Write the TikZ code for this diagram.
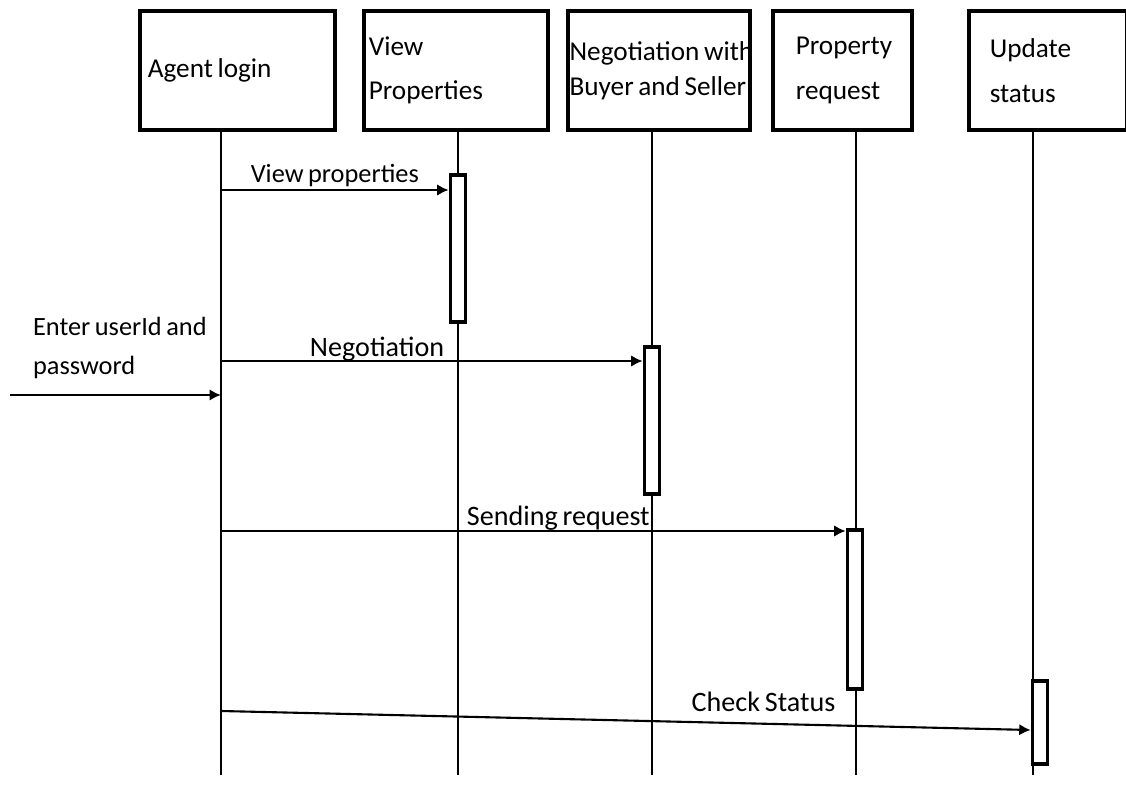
\documentclass[tikz,border=0pt]{standalone}
\usepackage{fontspec}
\setmainfont{Carlito}[WordSpace=0.75]
\usetikzlibrary{arrows.meta, positioning}

\begin{document}
\begin{tikzpicture}[x=0.02cm, y=-0.02cm,
		>={Latex[length=6.5pt, width=6.5pt]},   % Pfeilspitzen
		obj/.style={draw, line width=2.1pt, anchor=north west, align=flush left, inner xsep=1pt, inner ysep=2pt,
			minimum height=2.38cm, font=\fontsize{15.5}{25.5}\selectfont},
		life/.style={line width=0.6pt},
		act/.style={draw, line width=2.1pt, fill=white, anchor=north, minimum width=0.3cm, inner sep=0pt},
		msg/.style={->, line width=1.2pt},
		lbl/.style={font=\fontsize{16}{19}\selectfont, inner sep=1pt}]
		% Rahmen
		\useasboundingbox (0,0) rectangle (1126,803);
		% Objekte
		\node[obj, inner xsep=0.16cm, text width=3.58cm] (login) at (138,9) {Agent login};
		\node[obj, inner xsep=0.1cm, text width=3.48cm] (view) at (362,9) {View\\Properties};
		\node[obj, text width=3.58cm, font=\fontsize{15.5}{20}\selectfont] (nego) at (566,9) {\mbox{Negotiation with}\\\mbox{Buyer and Seller}};
		\node[obj, inner xsep=0.46cm, text width=1.86cm] (req) at (771,9) {Property\\request};
		\node[obj, inner xsep=0.42cm, text width=2.32cm] (upd) at (967,9) {Update\\status};
		% Lebenslinien
		\coordinate (l1) at (221,128); \coordinate (e1) at (221,775);
		\coordinate (l2) at (458,128); \coordinate (e2) at (458,775);
		\coordinate (l3) at (652,128); \coordinate (e3) at (652,775);
		\coordinate (l4) at (856,128); \coordinate (e4) at (856,775);
		\coordinate (l5) at (1033,128); \coordinate (e5) at (1033,775);
		\foreach \i in {1,...,5} \draw[life] (l\i) -- (e\i);
		% Aktivierungen
		\node[act, minimum height=2.94cm] (a2) at (458,173) {};
		\node[act, minimum height=2.94cm] (a3) at (652,345) {};
		\node[act, minimum height=3.18cm] (a4) at (855,528) {};
		\node[act, minimum height=1.66cm] (a5) at (1040,679) {};
		% Nachrichten
		\coordinate (m1) at (221,190);
		\coordinate (m2) at (221,361);
		\coordinate (m3) at (221,531);
		\coordinate (m4) at (221,711);
		\coordinate (m5) at (10,395);
		\coordinate (c5) at (1033,730);
		\draw[msg] (m1) -- node[lbl, above, font=\fontsize{15}{18}\selectfont] {View properties} (m1 -| a2.west);
		\draw[msg] (m2) -- node[lbl, above=-2pt, pos=0.37] {Negotiation} (m2 -| a3.west);
		\draw[msg] (m3) -- node[lbl, above=-1pt, pos=0.54] {Sending request} (m3 -| a4.west);
		\draw[msg] (m4) -- node[lbl, above=5pt, pos=0.67] {Check Status} (c5 -| a5.west);
		\draw[msg] (m5) -- (m5 -| l1);
		\node[lbl, align=left, anchor=south west, font=\fontsize{15}{22.5}\selectfont] (enter) at (31,381) {Enter userId and\\password};
	\end{tikzpicture}
\end{document}
